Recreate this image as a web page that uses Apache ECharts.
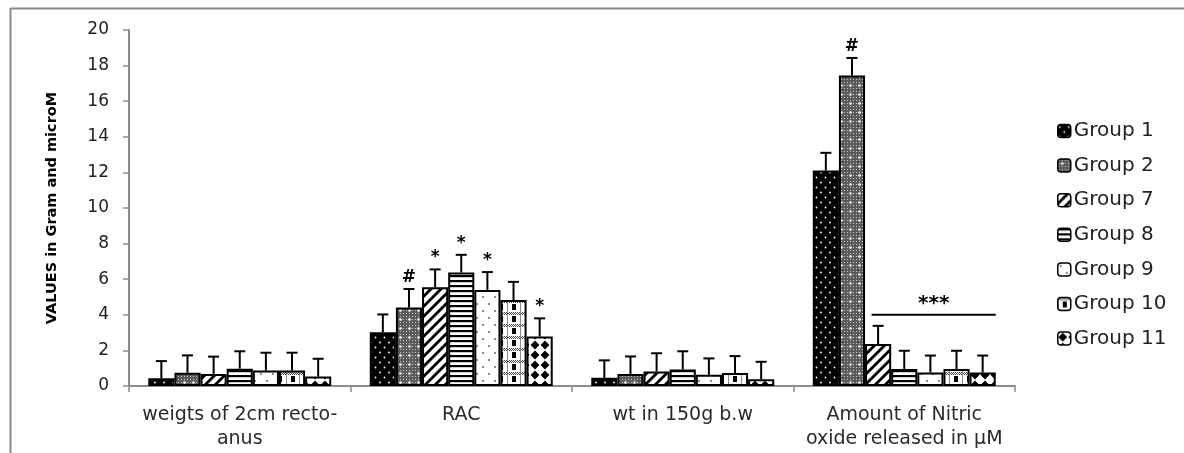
<!DOCTYPE html>
<html>
<head>
<meta charset="utf-8">
<script src="https://cdn.jsdelivr.net/npm/echarts@6/dist/echarts.min.js"></script>
<style>html,body{margin:0;padding:0;background:#fff}#chart{width:1184px;height:453px}</style>
</head>
<body>
<div id="chart"></div>
<script>
// ---- data ----
const categories = ['weigts of 2cm recto-\nanus', 'RAC', 'wt in 150g b.w', 'Amount of Nitric\noxide released in μM'];
const groupNames = ['Group 1', 'Group 2', 'Group 7', 'Group 8', 'Group 9', 'Group 10', 'Group 11'];
const group1 = [0.43, 3.02, 0.46, 12.1];
const group2 = [0.74, 4.41, 0.68, 17.45];
const group7 = [0.68, 5.55, 0.82, 2.36];
const group8 = [0.97, 6.38, 0.93, 0.96];
const group9 = [0.87, 5.4, 0.63, 0.76];
const group10 = [0.87, 4.83, 0.73, 0.96];
const group11 = [0.53, 2.78, 0.38, 0.76];
const err1 = [0.97, 1.0, 0.98, 1.0];
const err2 = [0.98, 1.04, 0.98, 0.98];
const err7 = [0.97, 1.0, 1.02, 1.02];
const err8 = [0.98, 0.99, 1.02, 1.02];
const err9 = [1.0, 1.0, 0.92, 0.95];
const err10 = [1.0, 1.02, 0.95, 1.02];
const err11 = [1.0, 1.02, 0.98, 0.95];
const mark1 = ['', '', '', ''];
const mark2 = ['', '#', '', '#'];
const mark7 = ['', '*', '', ''];
const mark8 = ['', '*', '', ''];
const mark9 = ['', '*', '', ''];
const mark10 = ['', '', '', ''];
const mark11 = ['', '*', '', ''];
const sigCategory = 3, sigFromGroup = 2, sigToGroup = 6, sigValue = 4.0, sigText = '***';
const yTicks = [0, 2, 4, 6, 8, 10, 12, 14, 16, 18, 20];

const values = [group1, group2, group7, group8, group9, group10, group11];
const errors = [err1, err2, err7, err8, err9, err10, err11];
const marks = [mark1, mark2, mark7, mark8, mark9, mark10, mark11];

// ---- patterns ----
function pat(w, h, draw) {
  const c = document.createElement('canvas');
  c.width = w; c.height = h;
  const ctx = c.getContext('2d');
  draw(ctx, w, h);
  return { image: c, repeat: 'repeat' };
}
function dot(ctx, x, y, r, col) { ctx.fillStyle = col; ctx.beginPath(); ctx.arc(x, y, r, 0, Math.PI * 2); ctx.fill(); }
const patterns = [
  pat(9, 10, (ctx, w, h) => { ctx.fillStyle = '#000'; ctx.fillRect(0, 0, w, h); dot(ctx, 2, 2.5, 0.9, '#fff'); dot(ctx, 6.5, 7.5, 0.9, '#fff'); }),
  pat(9, 9, (ctx, w, h) => { ctx.fillStyle = '#5a5a5a'; ctx.fillRect(0, 0, w, h);
    for (let x = 0; x < w; x += 3) for (let y = 0; y < h; y += 3) { ctx.fillStyle = '#c8c8c8'; ctx.fillRect(x + 1, y + 1, 1, 1); }
    dot(ctx, 4.5, 4.5, 1.3, '#fff'); }),
  pat(10, 10, (ctx, w, h) => { ctx.fillStyle = '#fff'; ctx.fillRect(0, 0, w, h); ctx.strokeStyle = '#000'; ctx.lineWidth = 2.8;
    for (let k = -1; k <= 1; k++) { ctx.beginPath(); ctx.moveTo(k * w - 1, h + 1); ctx.lineTo(k * w + w + 1, -1); ctx.stroke(); } }),
  pat(4, 5, (ctx, w, h) => { ctx.fillStyle = '#fff'; ctx.fillRect(0, 0, w, h); ctx.fillStyle = '#000'; ctx.fillRect(0, 0, w, 2.2); }),
  pat(12, 14, (ctx, w, h) => { ctx.fillStyle = '#fff'; ctx.fillRect(0, 0, w, h); dot(ctx, 3, 3, 0.9, '#555'); dot(ctx, 9, 10, 0.9, '#555'); }),
  pat(13, 12, (ctx, w, h) => { ctx.fillStyle = '#fff'; ctx.fillRect(0, 0, w, h);
    for (let x = 0; x < w; x += 2) { ctx.fillStyle = '#444'; ctx.fillRect(x, 0, 1, 1); ctx.fillRect(x + 1, 1, 1, 1); ctx.fillRect(x, 2, 1, 1); }
    ctx.fillStyle = '#888'; ctx.fillRect(0, 0, 1, h);
    ctx.fillStyle = '#000'; ctx.fillRect(5, 4, 4, 6); }),
  pat(10, 10, (ctx, w, h) => { ctx.fillStyle = '#fff'; ctx.fillRect(0, 0, w, h); ctx.fillStyle = '#000';
    ctx.beginPath(); ctx.moveTo(5, 0.6); ctx.lineTo(9.4, 5); ctx.lineTo(5, 9.4); ctx.lineTo(0.6, 5); ctx.closePath(); ctx.fill(); })
];

const gapPct = 0.174;
const barSeries = groupNames.map((name, g) => ({
  name: name,
  type: 'bar',
  data: values[g],
  barGap: '0%',
  barCategoryGap: (gapPct * 100) + '%',
  itemStyle: { color: patterns[g], borderColor: '#000', borderWidth: 2 },
  emphasis: { disabled: true },
  z: 2
}));

const errItems = [];
groupNames.forEach((n, g) => {
  categories.forEach((c, ci) => {
    errItems.push({ value: [ci, g, values[g][ci], errors[g][ci]], mark: marks[g][ci] });
  });
});

function barX(api, cat, g) {
  const center = api.coord([cat, 0])[0];
  const band = api.size([1, 0])[0];
  const bw = band * (1 - gapPct) / 7;
  return { x: center - 3.5 * bw + (g + 0.5) * bw, bw: bw };
}

const errSeries = {
  type: 'custom',
  name: 'err',
  z: 3,
  silent: true,
  data: errItems.map(d => d.value),
  renderItem: function (params, api) {
    const cat = api.value(0), g = api.value(1), v = api.value(2), e = api.value(3);
    const p = barX(api, cat, g);
    const y0 = api.coord([cat, v])[1];
    const y1 = api.coord([cat, v + e])[1];
    const children = [
      { type: 'line', shape: { x1: p.x, y1: y0, x2: p.x, y2: y1 }, style: { stroke: '#000', lineWidth: 2 } },
      { type: 'line', shape: { x1: p.x - 5.5, y1: y1, x2: p.x + 5.5, y2: y1 }, style: { stroke: '#000', lineWidth: 2 } }
    ];
    const m = errItems[params.dataIndex].mark;
    if (m) {
      children.push({ type: 'text', style: { text: m, x: p.x, y: y1 - 3, align: 'center', verticalAlign: 'bottom',
        font: 'bold 17px "DejaVu Sans", sans-serif', fill: '#000' } });
    }
    return { type: 'group', children: children };
  }
};

const sigSeries = {
  type: 'custom',
  name: 'sig',
  z: 3,
  silent: true,
  data: [[sigCategory, sigValue]],
  renderItem: function (params, api) {
    const a = barX(api, sigCategory, sigFromGroup);
    const b = barX(api, sigCategory, sigToGroup);
    const y = api.coord([sigCategory, sigValue])[1];
    const x1 = a.x - 0.25 * a.bw, x2 = b.x + 0.5 * b.bw;
    return { type: 'group', children: [
      { type: 'line', shape: { x1: x1, y1: y, x2: x2, y2: y }, style: { stroke: '#000', lineWidth: 2 } },
      { type: 'text', style: { text: sigText, x: (x1 + x2) / 2, y: y - 1, align: 'center', verticalAlign: 'bottom',
        font: 'bold 20px "DejaVu Sans", sans-serif', fill: '#000' } }
    ] };
  }
};

const chart = echarts.init(document.getElementById('chart'), null, { renderer: 'canvas' });
chart.setOption({
  animation: false,
  backgroundColor: '#fff',
  grid: { left: 129, right: 169, top: 30, bottom: 67, containLabel: false },
  legend: {
    data: groupNames,
    orient: 'vertical',
    left: 1052,
    top: 116,
    itemWidth: 13,
    itemHeight: 13,
    itemGap: 14.6,
    selectedMode: false,
    textStyle: { fontFamily: 'DejaVu Sans', fontSize: 20, color: '#222', padding: [0, 0, 0, -2] },
    itemStyle: { borderColor: '#000', borderWidth: 1.5 }
  },
  xAxis: {
    type: 'category',
    data: categories,
    axisLine: { lineStyle: { color: '#8c8c8c', width: 2 } },
    axisTick: { show: true, length: 6, lineStyle: { color: '#8c8c8c', width: 1.5 } },
    axisLabel: { fontFamily: 'DejaVu Sans', fontSize: 19, color: '#2a2a2a', margin: 17, lineHeight: 24, interval: 0 },
    splitLine: { show: false }
  },
  yAxis: {
    type: 'value',
    min: yTicks[0],
    max: yTicks[yTicks.length - 1],
    interval: 2,
    name: 'VALUES in Gram and microM',
    nameLocation: 'middle',
    nameGap: 69,
    nameRotate: 90,
    nameTextStyle: { fontFamily: '"DejaVu Sans"', fontWeight: 'bold', fontSize: 14.5, color: '#000' },
    axisLine: { show: true, lineStyle: { color: '#8c8c8c', width: 2 } },
    axisTick: { show: true, length: 6, lineStyle: { color: '#8c8c8c', width: 1.5 } },
    axisLabel: { fontFamily: 'DejaVu Sans', fontSize: 17, color: '#222', margin: 20 },
    splitLine: { show: false }
  },
  graphic: [
    { type: 'line', shape: { x1: 10, y1: 8.5, x2: 1184, y2: 8.5 }, style: { stroke: '#8a8a8a', lineWidth: 2 }, silent: true },
    { type: 'line', shape: { x1: 10.5, y1: 8, x2: 10.5, y2: 453 }, style: { stroke: '#8a8a8a', lineWidth: 2 }, silent: true }
  ],
  series: barSeries.concat([errSeries, sigSeries])
});
</script>
</body>
</html>
